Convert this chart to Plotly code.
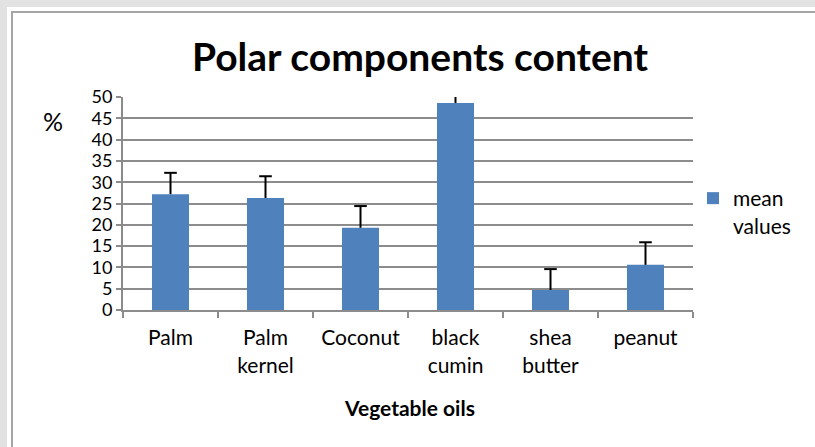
import plotly.graph_objects as go

categories = ["Palm", "Palm<br>kernel", "Coconut", "black<br>cumin", "shea<br>butter", "peanut"]
mean_values = [27.2, 26.3, 19.3, 48.6, 4.7, 10.6]
error_plus = [5.0, 5.1, 5.1, 5.0, 4.9, 5.3]
y_ticks = [0, 5, 10, 15, 20, 25, 30, 35, 40, 45, 50]

W, H = 815, 447
L, R, T, B = 123, 693, 97, 310

def px(x):
    return (x - L) / (R - L)

def py(y):
    return (B - y) / (B - T)

FONT = "Lato, 'Open Sans', sans-serif"

fig = go.Figure()
fig.add_trace(go.Bar(
    x=categories, y=mean_values, name="mean<br>values",
    marker=dict(color="#4F81BD", line=dict(width=0)),
    error_y=dict(type="data", array=error_plus, arrayminus=[0] * len(error_plus), symmetric=False,
                 color="black", thickness=2, width=0),
))
# caps of the error bars (top only)
fig.add_trace(go.Scatter(
    x=categories, y=[m + e for m, e in zip(mean_values, error_plus)], mode="markers",
    marker=dict(symbol="line-ew", size=9, line=dict(width=2, color="black")),
    showlegend=False, hoverinfo="skip", cliponaxis=True,
))

fig.update_layout(
    width=W, height=H,
    margin=dict(l=L, r=W - R, t=T, b=H - B),
    paper_bgcolor="#e2e2e2", plot_bgcolor="white",
    font=dict(family=FONT, color="black"),
    bargap=0.61,
    showlegend=True,
    legend=dict(x=px(693), y=py(178), xanchor="left", yanchor="top",
                font=dict(size=21, color="black"), valign="top",
                bgcolor="rgba(0,0,0,0)", itemwidth=30, tracegroupgap=0),
    title=dict(text="<b>Polar components content</b>", x=420 / W, xanchor="center",
               y=1 - 57 / H, yanchor="middle", font=dict(size=39, color="black")),
    shapes=[
        dict(type="rect", xref="paper", yref="paper", x0=px(7), x1=px(830), y0=py(7), y1=py(460),
             fillcolor="white", line=dict(width=0), layer="below"),
        dict(type="rect", xref="paper", yref="paper", x0=px(12), x1=px(830), y0=py(12), y1=py(460),
             fillcolor="rgba(0,0,0,0)", line=dict(width=2, color="#a6a6a6"), layer="below"),
    ],
    annotations=[
        dict(text="%", xref="paper", yref="paper", x=px(53), y=py(121), showarrow=False,
             xanchor="center", yanchor="middle", font=dict(size=25, color="black")),
        dict(text="<b>Vegetable oils</b>", xref="paper", yref="paper", x=px(409), y=py(407),
             showarrow=False, xanchor="center", yanchor="middle", font=dict(size=21, color="black")),
    ],
)

fig.update_yaxes(range=[0, 50], tickvals=y_ticks, showgrid=True, gridcolor="#8c8c8c", gridwidth=2,
                 showline=True, linecolor="#8c8c8c", linewidth=2, ticks="outside", ticklen=5,
                 tickcolor="#8c8c8c", tickwidth=2, tickfont=dict(size=18, color="black"),
                 zeroline=False)
fig.update_xaxes(showline=True, linecolor="#8c8c8c", linewidth=2, ticks="outside", ticklen=6,
                 tickcolor="#8c8c8c", tickwidth=2, tickson="boundaries",
                 tickfont=dict(size=21, color="black"), ticklabelstandoff=8)

fig.write_html("out.html", config={"displayModeBar": False},
               post_script="document.body.style.margin='0';")
